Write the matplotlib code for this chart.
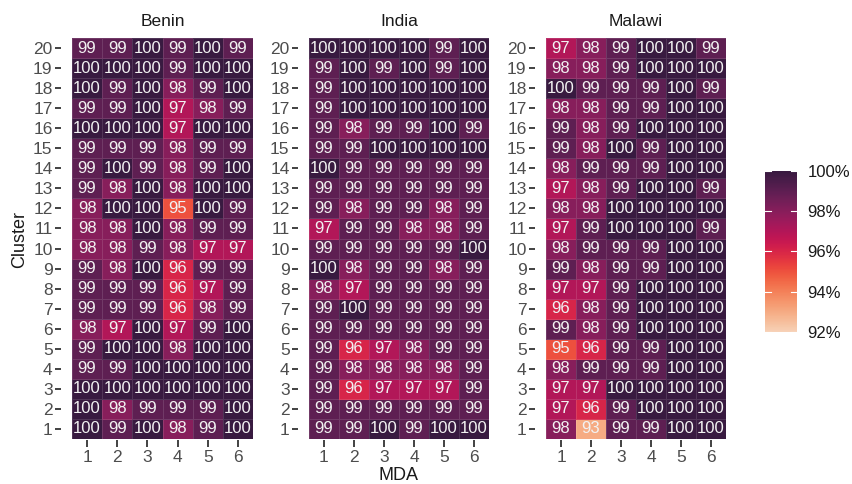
import numpy as np
import matplotlib
matplotlib.use("Agg")
import matplotlib.pyplot as plt
from matplotlib.colors import ListedColormap, Normalize
import seaborn as sns

plt.rcParams['font.family'] = ['Liberation Sans', 'DejaVu Sans']

countries = ["Benin", "India", "Malawi"]
mda = [1, 2, 3, 4, 5, 6]
clusters = list(range(1, 21))

# coverage (%) per cluster, listed from cluster 20 down to cluster 1
benin = [
    [99, 99, 100, 99, 100, 99],
    [100, 100, 100, 99, 100, 100],
    [100, 99, 100, 98, 99, 100],
    [99, 99, 100, 97, 98, 99],
    [100, 100, 100, 97, 100, 100],
    [99, 99, 99, 98, 99, 99],
    [99, 100, 99, 98, 99, 100],
    [99, 98, 100, 98, 100, 100],
    [98, 100, 100, 95, 100, 99],
    [98, 98, 100, 98, 99, 99],
    [98, 98, 99, 98, 97, 97],
    [99, 98, 100, 96, 99, 99],
    [99, 99, 99, 96, 97, 99],
    [99, 99, 99, 96, 98, 99],
    [98, 97, 100, 97, 99, 100],
    [99, 100, 100, 98, 100, 100],
    [99, 99, 100, 100, 100, 100],
    [100, 100, 100, 100, 100, 100],
    [100, 98, 99, 99, 99, 100],
    [100, 99, 100, 98, 99, 100],
]
india = [
    [100, 100, 100, 100, 99, 100],
    [99, 100, 99, 100, 99, 100],
    [99, 100, 100, 100, 100, 100],
    [99, 100, 100, 100, 100, 100],
    [99, 98, 99, 99, 100, 99],
    [99, 99, 100, 100, 100, 100],
    [100, 99, 99, 99, 99, 99],
    [99, 99, 99, 99, 99, 99],
    [99, 98, 99, 99, 98, 99],
    [97, 99, 99, 98, 98, 99],
    [99, 99, 99, 99, 99, 100],
    [100, 98, 99, 99, 98, 99],
    [98, 97, 99, 99, 99, 99],
    [99, 100, 99, 99, 99, 99],
    [99, 99, 99, 99, 99, 99],
    [99, 96, 97, 98, 99, 99],
    [99, 98, 98, 98, 98, 99],
    [99, 96, 97, 97, 97, 99],
    [99, 99, 99, 99, 99, 99],
    [99, 99, 100, 99, 100, 100],
]
malawi = [
    [97, 98, 99, 100, 100, 99],
    [98, 98, 99, 100, 100, 100],
    [100, 99, 99, 99, 100, 99],
    [98, 98, 99, 99, 100, 100],
    [99, 98, 99, 100, 100, 100],
    [99, 98, 100, 99, 100, 100],
    [98, 99, 99, 99, 100, 100],
    [97, 98, 99, 100, 100, 99],
    [98, 98, 100, 100, 100, 100],
    [97, 99, 100, 100, 100, 99],
    [98, 99, 99, 99, 100, 100],
    [99, 98, 99, 99, 100, 100],
    [97, 97, 99, 100, 100, 100],
    [96, 98, 99, 100, 100, 100],
    [99, 98, 99, 100, 100, 100],
    [95, 96, 99, 99, 100, 100],
    [98, 99, 99, 99, 100, 100],
    [97, 97, 100, 100, 100, 100],
    [97, 96, 99, 100, 100, 100],
    [98, 93, 99, 99, 100, 100],
]
tables = [benin, india, malawi]

rocket = sns.color_palette("rocket", as_cmap=True)
cmap = ListedColormap(rocket(np.linspace(0.93, 0.15, 256)))
norm = Normalize(92, 100)

W, H = 853, 484
fig = plt.figure(figsize=(W / 100, H / 100), dpi=100)

def px_axes(x0, y0, x1, y1):
    return fig.add_axes([x0 / W, 1 - y1 / H, (x1 - x0) / W, (y1 - y0) / H])

panel_x = [(72, 253), (309, 489), (546, 726)]
top, bottom = 38, 439

for (x0, x1), name, tab in zip(panel_x, countries, tables):
    ax = px_axes(x0, top, x1, bottom)
    z = np.array(tab[::-1], dtype=float)  # row 0 = cluster 1
    xe = np.arange(len(mda) + 1) + 0.5
    ye = np.arange(len(clusters) + 1) + 0.5
    ax.pcolormesh(xe, ye, z, cmap=cmap, norm=norm,
                  edgecolors=(1, 1, 1, 0.12), linewidth=0.5)
    for i, c in enumerate(clusters):
        for j, m in enumerate(mda):
            ax.text(m, c, f"{int(z[i, j])}", ha='center', va='center',
                    fontsize=12, color='#f2f2f2')
    ax.set_xlim(0.5, 6.5)
    ax.set_ylim(0.5, 20.5)
    ax.set_xticks(mda)
    ax.set_yticks(clusters)
    ax.set_xticklabels([str(m) for m in mda])
    ax.set_yticklabels([str(c) for c in clusters])
    for s in ax.spines.values():
        s.set_visible(False)
    ax.spines['left'].set_position(('outward', 8))
    ax.spines['bottom'].set_position(('outward', 1))
    ax.tick_params(axis='y', length=4, width=1.3, color='#333333',
                   labelsize=12.5, labelcolor='#4d4d4d', pad=2)
    ax.tick_params(axis='x', length=5, width=1.3, color='#333333',
                   labelsize=12.5, labelcolor='#4d4d4d', pad=2)
    ax.set_title(name, fontsize=12.5, color='#1a1a1a', pad=9)

fig.text(399 / W, 1 - 476 / H, "MDA", ha='center', va='center',
         fontsize=13, color='#1a1a1a')
fig.text(20 / W, 1 - 240 / H, "Cluster", ha='center', va='center',
         rotation=90, fontsize=13, color='#1a1a1a')

# colour bar
cax = px_axes(765, 171, 797, 332)
grad = np.linspace(92, 100, 300).reshape(-1, 1)
cax.imshow(grad, aspect='auto', origin='lower', cmap=cmap, norm=norm,
           extent=(0, 1, 92, 100))
cax.set_xlim(0, 1)
cax.set_ylim(92, 100)
ticks = [92, 94, 96, 98, 100]
for t in ticks:
    cax.plot([0, 0.2], [t, t], color='white', lw=0.8)
    cax.plot([0.8, 1], [t, t], color='white', lw=0.8)
cax.set_xticks([])
cax.set_yticks(ticks)
cax.set_yticklabels([f"{t}%" for t in ticks])
cax.yaxis.tick_right()
cax.tick_params(axis='y', length=0, labelsize=12, labelcolor='#1a1a1a', pad=7.5)
for s in cax.spines.values():
    s.set_visible(False)

fig.savefig("out.png", dpi=100)
